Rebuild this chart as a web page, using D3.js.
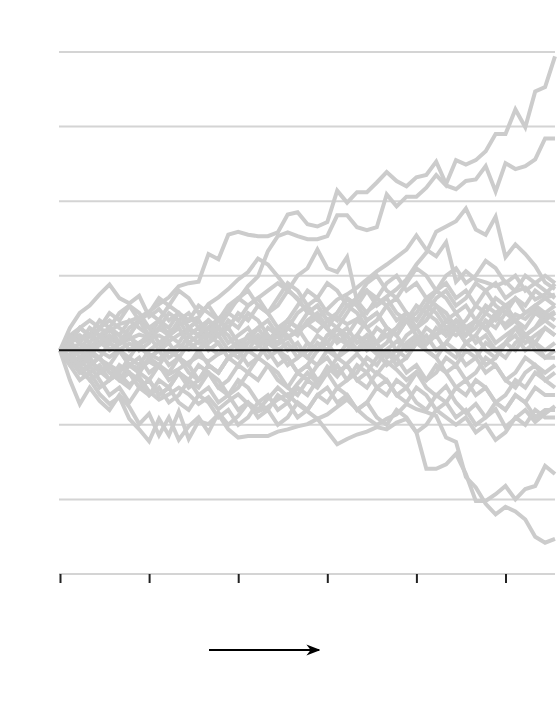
<!DOCTYPE html>
<html>
<head>
<meta charset="utf-8">
<script src="https://cdn.jsdelivr.net/npm/d3@7"></script>
<style>
  body { margin: 0; background: #fff; }
</style>
</head>
<body>
<div id="chart"></div>
<script>
// Random-walk paths, one value per step (grid unit = 10)
const A = [0, 1.1, 1.7, 2.1, 2.8, 2.5, 3.5, 3.9, 4.4, 5.2, 6.2, 7.1, 8.6, 9.0, 9.2, 12.9, 12.2, 15.5, 15.9, 15.5,
  15.3, 15.3, 15.8, 18.2, 18.5, 16.9, 16.6, 17.2, 21.4, 19.8, 21.2, 21.2, 22.5, 23.9, 22.7, 22.0, 23.2, 23.5, 25.3, 22.3,
  25.5, 24.9, 25.5, 26.7, 29.0, 29.0, 32.3, 29.9, 34.7, 35.3, 39.4];
const B = [0, 0.4, 0.8, -0.1, 0.7, 1.5, 0.9, 1.7, 0.8, 1.5, 2.0, 1.2, 2.1, 2.8, 2.0, 3.1, 4.2, 5.5, 6.8, 8.6,
  9.9, 13.3, 15.3, 15.8, 15.3, 14.9, 14.9, 15.3, 18.1, 18.1, 16.5, 16.1, 16.5, 20.9, 19.3, 20.6, 20.6, 21.8, 23.5, 22.1,
  21.6, 22.7, 22.9, 24.7, 21.3, 25.1, 24.3, 24.7, 25.6, 28.4, 28.4];
const C = [0, -0.7, 0.1, 0.8, -0.1, -0.9, 0.1, 0.9, 0.3, -0.5, -1.2, -0.1, 0.7, 0.1, 1.2, 0.4, -0.5, 0.1, 1.1, 1.7,
  0.8, 1.5, 2.4, 1.7, 2.8, 3.5, 2.5, 3.9, 4.4, 3.5, 4.2, 5.2, 6.2, 7.2, 8.2, 9.5, 11.5, 13.1, 15.9, 16.6,
  17.3, 19.0, 16.2, 15.5, 17.9, 12.5, 14.2, 12.9, 11.3, 9.1, 8.2];
const D = [0, -0.9, -1.5, -0.5, -1.2, -2.0, -2.8, -1.9, -2.5, -1.5, -2.3, -3.2, -2.5, -1.6, -0.8, -1.5, -0.5, 0.1, 0.8, -0.1,
  0.5, 1.5, 0.8, 1.7, 2.5, 3.5, 4.4, 5.5, 6.8, 7.5, 8.4, 9.5, 10.6, 11.5, 12.5, 13.5, 15.4, 13.5, 12.6, 14.5,
  9.2, 10.6, 9.5, 9.1, 8.6, 9.2, 7.9, 8.4, 6.8, 7.5, 8.9];
const E = [0, 0.5, -0.1, 0.4, 1.1, 0.1, 0.8, 1.5, 2.1, 1.7, 2.8, 2.4, 3.4, 3.9, 4.4, 6.2, 7.1, 8.2, 9.5, 10.5,
  12.3, 11.5, 9.9, 8.2, 6.8, 5.2, 4.4, 2.8, 1.7, 0.8, -0.1, 0.7, -0.5, 0.1, 1.2, 0.4, 1.7, 0.8, 2.1, 2.8,
  2.0, 3.1, 3.9, 2.8, 4.4, 3.5, 4.8, 4.2, 5.5, 4.4, 5.2];
const F = [0, -1.5, -2.8, -3.9, -5.9, -7.2, -6.3, -9.2, -10.6, -12.2, -9.2, -11.4, -8.2, -11.9, -9.5, -9.9, -8.6, -10.6, -11.7, -11.5,
  -11.5, -11.5, -10.9, -10.6, -10.2, -9.9, -9.2, -10.9, -12.6, -11.9, -11.3, -10.9, -10.3, -10.6, -9.7, -9.2, -11.0, -15.9, -15.9, -15.3,
  -13.9, -16.6, -20.2, -20.2, -19.3, -18.2, -20.0, -18.6, -18.2, -15.5, -16.6];
const G = [0, -0.9, -1.9, -1.2, -2.8, -3.9, -3.2, -4.6, -3.6, -5.5, -6.6, -5.9, -5.0, -5.9, -7.2, -6.3, -7.9, -6.8, -5.9, -7.2,
  -8.2, -7.6, -6.6, -5.9, -7.2, -8.2, -9.2, -8.6, -7.6, -6.6, -7.9, -9.1, -10.0, -9.2, -8.6, -7.2, -7.9, -8.3, -8.8, -11.7,
  -12.3, -17.0, -18.4, -20.6, -22.0, -21.0, -21.6, -22.7, -25.0, -25.8, -25.3];
const H = [0, -4, -7.2, -5.0, -6.8, -8.0, -6.0, -7.6, -9.9, -8.5, -11.4, -9.0, -12.0, -10.2, -9.0, -11.0, -8.4, -10.0, -8.8, -7.0,
  -8.0, -6.5, -5.0, -6.2, -4.5, -3.0, -4.4, -2.2, -3.5, -1.8, -0.5, -2.0, -3.2, -1.5, -2.6, -4.0, -2.9, -5.0, -6.1, -4.8,
  -7.0, -8.4, -7.2, -9.0, -7.9, -10.3, -9.1, -8.0, -9.6, -8.5, -7.5];
const L = [0, 1, 0, 2, 1, 3, 2, 4, 3, 2, 4, 3, 5, 4, 6, 5, 4, 6, 7, 6,
  7, 8, 9, 8, 10, 11, 13.5, 11, 10.5, 12.5, 6.6, 5, 7, 6, 4, 5, 3, 4, 6, 5,
  3, 4, 6, 5, 7, 6, 4, 5, 6, 5, 6];
const T1 = [0, 1, 3, 2, 4, 3, 5, 6, 4, 5, 7, 6, 8, 7, 5, 6, 4, 5, 7, 8,
  6, 5, 7, 9, 8, 6, 7, 5, 4, 6, 5, 3, 4, 6, 7, 5, 4, 6, 8, 7,
  5, 6, 4, 3, 5, 6, 4, 3, 5, 4, 5];
const T2 = [0, -2, -1, -3, -2, -4, -3, -1, -2, 0, 1, -1, 0, 2, 1, 3, 2, 0, -1, 1,
  2, 0, -2, -1, -3, -2, 0, 1, -1, -2, -4, -3, -1, 0, -2, -1, 1, 0, -1, -3,
  -2, -4, -3, -1, -2, -4, -5, -3, -2, -4, -3];
const T3 = [0, 2, 1, 3, 2, 0, 1, 2, 4, 3, 1, 2, 3, 1, 0, 2, 4, 3, 5, 4,
  6, 5, 3, 4, 6, 8, 7, 9, 8, 6, 7, 9, 10, 8, 7, 9, 11, 10, 8, 9,
  7, 8, 6, 8, 9, 7, 8, 10, 9, 8, 7];
const T4 = [0, -1, -3, -2, -4, -6, -5, -7, -5, -4, -6, -5, -3, -4, -2, -3, -5, -6, -4, -5,
  -7, -6, -8, -7, -5, -6, -4, -3, -5, -4, -2, -3, -5, -4, -6, -7, -5, -6, -8, -7,
  -5, -6, -4, -5, -7, -8, -6, -7, -5, -6, -6];
const T5 = [0, 1, 0, -1, 1, 2, 1, 3, 4, 2, 3, 5, 4, 2, 3, 1, 2, 4, 3, 5,
  4, 2, 1, 3, 2, 4, 5, 3, 1, 2, 0, 1, 3, 2, 0, -1, 1, 2, 0, 1,
  3, 2, 4, 3, 1, 2, 3, 1, 2, 3, 2];
const T6 = [0, -1, -2, 0, -1, 1, 0, -2, -3, -1, -2, -4, -3, -5, -4, -2, -3, -1, -2, 0,
  -1, 1, 0, -1, -3, -2, -4, -3, -1, 0, 2, 1, 0, -2, -1, 1, 2, 0, -1, 1,
  0, -2, -1, 1, 0, -1, 1, 2, 0, -1, -1];
const T7 = [0, 1, 2, 1, 3, 4, 3, 2, 4, 5, 4, 6, 5, 3, 4, 2, 3, 5, 4, 6,
  7, 5, 6, 8, 7, 5, 6, 4, 5, 7, 6, 8, 7, 9, 10, 8, 9, 7, 8, 10,
  11, 9, 10, 12, 11, 9, 10, 8, 9, 10, 9];
const T8 = [0, -1, -2, -4, -3, -2, -4, -5, -3, -4, -6, -5, -7, -8, -6, -7, -9, -8, -10, -9,
  -7, -8, -6, -7, -9, -8, -6, -5, -7, -6, -8, -7, -5, -6, -4, -5, -7, -8, -6, -7,
  -9, -8, -10, -9, -7, -8, -6, -7, -9, -8, -8];
const T9 = [0, 2, 3, 2, 1, 3, 2, 0, 1, -1, 0, 2, 1, 3, 4, 2, 1, -1, 0, 2,
  1, 3, 2, 4, 3, 1, 0, 2, 3, 1, 2, 4, 5, 3, 2, 0, 1, 3, 2, 4,
  3, 1, 2, 0, -1, 1, 0, 2, 1, 0, 1];
const T10 = [0, 0, -2, -1, -3, -2, 0, -1, 1, 2, 0, 1, -1, -2, 0, 1, 3, 2, 0, 1,
  3, 4, 2, 3, 5, 6, 4, 3, 5, 7, 6, 4, 5, 3, 2, 4, 5, 7, 6, 4,
  5, 3, 4, 6, 5, 3, 4, 2, 3, 5, 4];
const T11 = [0, -1, -3, -2, -1, -3, -4, -2, -3, -1, 0, -2, -1, 1, 0, -2, -3, -1, 0, 2,
  3, 1, 2, 4, 3, 5, 6, 4, 3, 5, 7, 8, 6, 7, 5, 4, 6, 5, 7, 8,
  6, 7, 9, 8, 6, 5, 7, 6, 8, 7, 6];
const T12 = [0, -1, 0, -2, -1, -3, -4, -3, -5, -4, -2, -3, -1, -2, -4, -3, -5, -4, -2, -3,
  -1, -2, -4, -5, -3, -4, -2, -1, -3, -2, -4, -5, -3, -4, -6, -5, -3, -4, -2, -3,
  -5, -4, -6, -5, -7, -6, -4, -5, -3, -4, -5];
const T13 = [0, 1, -1, 0, 2, 1, 0, -2, -1, -3, -2, 0, -1, -3, -4, -2, -3, -1, 0, -2,
  -1, 1, 2, 0, 1, -1, -2, 0, -1, 1, 0, 2, 1, -1, 0, 2, 3, 1, 2, 0,
  -1, 1, 0, -2, -1, 1, 2, 0, 1, -1, 0];
const T15 = [0, -2, -4, -3, -5, -4, -2, -3, -4, -6, -5, -7, -6, -4, -5, -3, -4, -6, -5, -3,
  -4, -2, -3, -5, -6, -4, -5, -3, -2, -4, -3, -1, -2, 0, -1, -3, -2, -4, -3, -1,
  -2, 0, -1, -3, -2, -4, -3, -1, -2, -3, -2];
const T16 = [0, 1, 3, 4, 3, 5, 4, 6, 5, 3, 4, 2, 3, 1, 2, 0, 1, -1, 0, 2,
  1, -1, 0, -2, -1, 1, 0, 2, 3, 1, 2, 0, 1, 3, 2, 4, 3, 5, 4, 2,
  3, 1, 2, 4, 3, 5, 4, 2, 3, 4, 3];
const T17 = [0, -1, -2, -1, -3, -2, -4, -3, -5, -6, -4, -5, -3, -4, -6, -5, -7, -6, -8, -7,
  -9, -8, -10, -9, -7, -8, -6, -7, -5, -6, -8, -7, -9, -10, -8, -9, -11, -10, -8, -9,
  -10, -9, -11, -10, -12, -11, -9, -10, -8, -9, -9];
const T18 = [0, 2, 1, 0, 2, 3, 1, 2, 0, 1, 3, 2, 4, 5, 3, 4, 2, 3, 1, 0,
  2, 1, 3, 2, 0, -1, 1, 0, 2, 3, 1, 2, 0, 1, 3, 4, 2, 1, 3, 2,
  4, 3, 1, 2, 0, 1, 3, 2, 1, 3, 2];
const T19 = [0, 3, 5, 6, 7.5, 8.8, 7.0, 6.3, 7.3, 4.5, 5.5, 4, 5, 3, 2, 4, 3, 1, 2, 3,
  1, 2, 0, 1, -1, 0, 2, 1, 3, 2, 4, 3, 1, 2, 3, 5, 4, 6, 5, 3,
  4, 2, 3, 5, 4, 6, 7, 5, 6, 7, 7.5];

const series = [A, B, C, D, E, F, G, H, L, T1, T2, T3, T4, T5, T6, T7, T8, T9, T10,
  T11, T12, T13, T15, T16, T17, T18, T19];

const yGrid = [-30, -20, -10, 10, 20, 30, 40];
const xTicks = [0, 9, 18, 27, 36, 45];

// Dimensions
const width = 560,
    height = 702;
const margin = {top: 52, right: 5, bottom: 128, left: 60};

const svg = d3.select("#chart")
    .append("svg")
    .attr("width", width)
    .attr("height", height);

const x = d3.scaleLinear()
    .domain([0, 50])
    .range([margin.left, width - margin.right]);

const y = d3.scaleLinear()
    .domain([-30, 40])
    .range([height - margin.bottom, margin.top]);

// Horizontal gridlines
svg.append("g")
    .selectAll("line")
    .data(yGrid)
    .enter()
    .append("line")
    .attr("x1", margin.left - 1)
    .attr("x2", width - margin.right)
    .attr("y1", d => y(d))
    .attr("y2", d => y(d))
    .attr("stroke", "#d4d4d4")
    .attr("stroke-width", 2);

// x axis ticks
svg.append("g")
    .attr("transform", "translate(0," + y(-30) + ")")
    .call(d3.axisBottom(x).tickValues(xTicks).tickSize(9).tickFormat(""))
    .call(g => g.select(".domain").remove())
    .call(g => g.selectAll(".tick line").attr("stroke", "#222").attr("stroke-width", 2));

// Walk lines
const line = d3.line()
    .x((d, i) => x(i))
    .y(d => y(d));

svg.append("g")
    .selectAll("path")
    .data(series)
    .enter()
    .append("path")
    .attr("d", line)
    .attr("fill", "none")
    .attr("stroke", "#cccccc")
    .attr("stroke-width", 4);

// Zero line
svg.append("line")
    .attr("x1", margin.left - 1)
    .attr("x2", width - margin.right)
    .attr("y1", y(0))
    .attr("y2", y(0))
    .attr("stroke", "#111")
    .attr("stroke-width", 2);

// Arrow below the axis
svg.append("defs")
    .append("marker")
    .attr("id", "arrowhead")
    .attr("viewBox", "0 0 10 10")
    .attr("refX", 9)
    .attr("refY", 5)
    .attr("markerWidth", 7)
    .attr("markerHeight", 7)
    .attr("markerUnits", "strokeWidth")
    .attr("orient", "auto")
    .append("path")
    .attr("d", "M0,1L10,5L0,9L3,5Z")
    .attr("fill", "#000");

svg.append("line")
    .attr("x1", 209)
    .attr("x2", 319)
    .attr("y1", 650)
    .attr("y2", 650)
    .attr("stroke", "#000")
    .attr("stroke-width", 2)
    .attr("marker-end", "url(#arrowhead)");
</script>
</body>
</html>
